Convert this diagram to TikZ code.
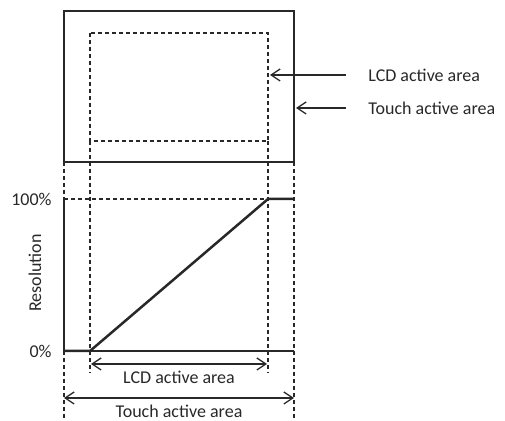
\documentclass[tikz,border=0pt]{standalone}
\usepackage{fontspec}
\setmainfont{Carlito}
\usetikzlibrary{arrows.meta, positioning}
\definecolor{cink}{RGB}{40,40,40}
\tikzset{
  frame/.style={line width=1pt, draw=cink},
  guide/.style={line width=0.65pt, draw=cink, dash pattern=on 2pt off 1.5pt},
  curve/.style={line width=1.25pt, draw=cink, line join=round},
  dim/.style={{Straight Barb[length=4.5pt,width=6pt]}-{Straight Barb[length=4.5pt,width=6pt]},
              line width=0.65pt, draw=cink},
  ptr/.style={-{Straight Barb[length=4.5pt,width=6pt]}, line width=0.65pt, draw=cink},
  lbl/.style={font=\fontsize{9}{11}\selectfont, text=cink, inner sep=1pt},
}
\begin{document}
\begin{tikzpicture}[x=0.5pt, y=-0.5pt]
  \useasboundingbox (0,0) rectangle (505,421);
  % ── Coordinates ───────────────────────────────────────────────────────────
  \coordinate (ta-nw)  at (64,11);   \coordinate (ta-se)  at (294,162);
  \coordinate (lcd-nw) at (90,33);   \coordinate (lcd-se) at (268,141);
  \coordinate (orig)   at (64,351);  \coordinate (full)   at (64,199);

  % ── Panel outline ─────────────────────────────────────────────────────────
  \draw[frame] (ta-nw) rectangle (ta-se);
  \draw[guide] (lcd-nw) rectangle (lcd-se);

  % ── Pointer labels ────────────────────────────────────────────────────────
  \node[lbl, anchor=west] at (366,75)  (lcdlbl) {LCD active area};
  \node[lbl, anchor=west] at (366,108) (talbl)  {Touch active area};
  \draw[ptr, shorten <=10pt, shorten >=1pt] (lcdlbl.west) -- (lcdlbl.west -| lcd-se);
  \draw[ptr, shorten <=10pt, shorten >=1pt] (talbl.west)  -- (talbl.west -| ta-se);

  % ── Guide lines down to the graph ─────────────────────────────────────────
  \draw[guide] (ta-se |- 0,162) -- (ta-se |- 0,421);
  \draw[guide] (ta-nw |- 0,162) -- (ta-nw |- 0,421);
  \draw[guide] (lcd-nw |- lcd-se) -- (lcd-nw |- 0,373);
  \draw[guide] (lcd-se) -- (lcd-se |- 0,373);
  \draw[guide] (full) -- (full -| lcd-se);

  % ── Graph ─────────────────────────────────────────────────────────────────
  \draw[frame] (full) -- (orig) -- (orig -| ta-se);
  \draw[curve] (orig) -- (orig -| lcd-nw) -- (full -| lcd-se) -- (full -| ta-se);

  \node[lbl, anchor=east] at (54,199) (pct100) {100\%};
  \node[lbl, anchor=east] at (54,351) (pct0)   {0\%};
  \node[lbl, rotate=90]   at (35,273) (yaxis)  {Resolution};

  % ── Dimension arrows ──────────────────────────────────────────────────────
  \coordinate (lcd-a) at (91,364);  \coordinate (lcd-b) at (267,364);
  \coordinate (ta-a)  at (64,398);  \coordinate (ta-b)  at (294,398);
  \draw[dim] (lcd-a) -- node[lbl, below=2pt] (lcddim) {LCD active area} (lcd-b);
  \draw[dim] (ta-a)  -- node[lbl, below=2pt] (tadim)  {Touch active area} (ta-b);
\end{tikzpicture}
\end{document}
